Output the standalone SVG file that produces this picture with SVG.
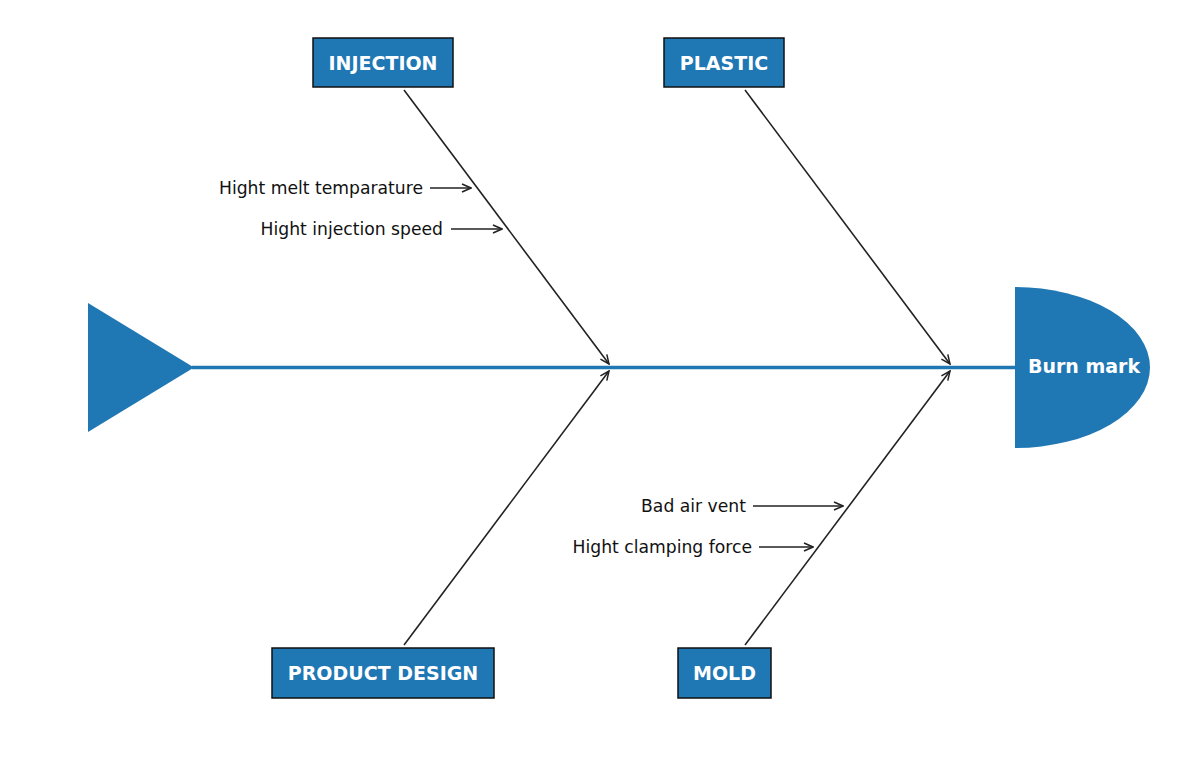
<svg xmlns="http://www.w3.org/2000/svg" width="1197" height="762" viewBox="0 0 1197 762">
<defs>
<marker id="arr" markerUnits="userSpaceOnUse" markerWidth="12" markerHeight="12" viewBox="0 0 12 12" refX="11" refY="6" orient="auto">
<path d="M2,2 L11,6 L2,10" fill="none" stroke="#222" stroke-width="1.5"/>
</marker>
</defs>
<style>
.box{fill:#1f77b4;stroke:#111;stroke-width:1.5}
.cat{font-family:"DejaVu Sans",sans-serif;font-weight:bold;font-size:19px;fill:#fff;text-anchor:middle;dominant-baseline:central}
.cause{font-family:"DejaVu Sans",sans-serif;font-size:17.2px;fill:#111;text-anchor:end;dominant-baseline:central}
.bone{stroke:#222;stroke-width:1.6;fill:none;marker-end:url(#arr)}
.spine{stroke:#1f77b4;stroke-width:3.5;fill:none}
.fill{fill:#1f77b4}
</style>
<rect width="1197" height="762" fill="#fff"/>
<g id="tail"><polygon class="fill" points="88,303 88,432 194,367.5"/></g>
<g id="connectors">
<line class="spine" x1="192" y1="367.5" x2="1016" y2="367.5"/>
<line class="bone" x1="404" y1="90" x2="609" y2="364"/>
<line class="bone" x1="745" y1="90" x2="950" y2="364"/>
<line class="bone" x1="404" y1="645" x2="609" y2="371"/>
<line class="bone" x1="745" y1="645" x2="950" y2="371"/>
<line class="bone" x1="430" y1="188" x2="471" y2="188"/>
<line class="bone" x1="451" y1="229" x2="502" y2="229"/>
<line class="bone" x1="753" y1="506" x2="843" y2="506"/>
<line class="bone" x1="759" y1="547" x2="813" y2="547"/>
</g>
<g id="head">
<path class="fill" d="M1015,287 A135,80.5 0 0 1 1015,448 Z"/>
<text class="cat" x="1084" y="366">Burn mark</text>
</g>
<g id="injection"><rect class="box" x="313" y="38" width="140" height="49"/><text class="cat" x="383" y="62.5">INJECTION</text></g>
<g id="plastic"><rect class="box" x="664" y="38" width="120" height="49"/><text class="cat" x="724" y="62.5">PLASTIC</text></g>
<g id="product-design"><rect class="box" x="272" y="648" width="222" height="50"/><text class="cat" x="383" y="673">PRODUCT DESIGN</text></g>
<g id="mold"><rect class="box" x="678" y="648" width="93" height="50"/><text class="cat" x="724.5" y="673">MOLD</text></g>
<g id="causes">
<text class="cause" x="423" y="188">Hight melt temparature</text>
<text class="cause" x="443" y="229">Hight injection speed</text>
<text class="cause" x="746" y="506">Bad air vent</text>
<text class="cause" x="752" y="547">Hight clamping force</text>
</g>
</svg>
